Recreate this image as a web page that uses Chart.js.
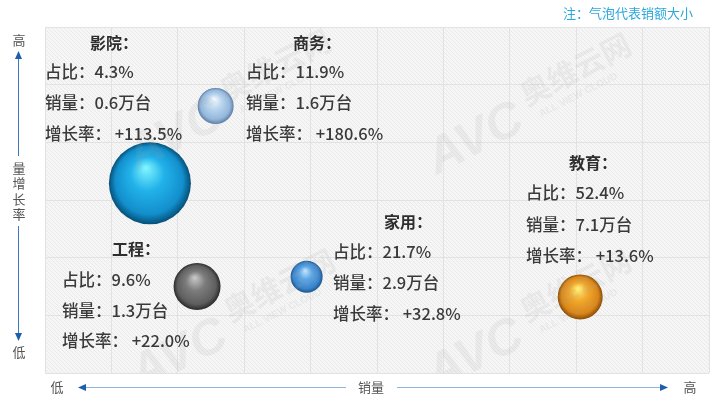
<!DOCTYPE html>
<html>
<head>
<meta charset="utf-8">
<script src="https://cdn.jsdelivr.net/npm/chart.js@4/dist/chart.umd.min.js"></script>
<style>
html,body{margin:0;padding:0;background:#fff;}
#wrap{width:720px;height:408px;position:relative;}
</style>
</head>
<body>
<div id="wrap"><canvas id="c" width="720" height="408"></canvas></div>
<script>
// ---- data ----
const categories = ['影院', '商务', '工程', '家用', '教育'];
const shares     = ['4.3%', '11.9%', '9.6%', '21.7%', '52.4%'];
const volumes    = ['0.6万台', '1.6万台', '1.3万台', '2.9万台', '7.1万台'];
const growth     = ['+113.5%', '+180.6%', '+22.0%', '+32.8%', '+13.6%'];
// position on the (unlabelled) sales / growth axes, in grid units
const xPos = [1.58, 2.57, 2.29, 3.94, 8.06];
const yPos = [3.29, 4.63, 1.50, 1.67, 1.32];
// bubble size = sales amount (relative)
const salesSize = [41, 18, 23.5, 16, 22.5];
const noteText = '注：气泡代表销额大小';
const xAxisName = '销量';
const yAxisName = '量增长率';
const lowText = '低', highText = '高';

// ---- styles ----
const sphereColors = [
  ['#7ff4ff', '#22b2ea', '#128fcc', '#064f78'],
  ['#f4f9ff', '#b9d5ee', '#93b6da', '#5c7ea6'],
  ['#c8c8c8', '#7c7c7c', '#5e5e5e', '#2a2a2a'],
  ['#c0e6ff', '#5aa6e6', '#3a84cc', '#1d568e'],
  ['#fff07a', '#f2a82a', '#d9861a', '#8a4c04']
];
// label layout (pixel anchors): title x, title y, lines x, first line y, line gap
const labelLayout = [
  {tx: 90,  ty: 43,  lx: 45,  ly: 72,  gap: 31},
  {tx: 293, ty: 43,  lx: 246, ly: 72,  gap: 31},
  {tx: 112, ty: 249, lx: 62,  ly: 280, gap: 30.5},
  {tx: 384, ty: 222, lx: 333, ly: 252, gap: 31},
  {tx: 569, ty: 163, lx: 526, ly: 193, gap: 31.5}
];
const CJK = '"Noto Sans CJK SC", "Microsoft YaHei", sans-serif';

const hatchPattern = (() => {
  const p = document.createElement('canvas');
  p.width = 4; p.height = 4;
  const g = p.getContext('2d');
  g.fillStyle = '#f6f6f6';
  g.fillRect(0, 0, 4, 4);
  g.strokeStyle = '#e9e9e9';
  g.lineWidth = 1;
  g.beginPath();
  g.moveTo(-1, -1); g.lineTo(5, 5);
  g.moveTo(-1, 3); g.lineTo(1, 5);
  g.moveTo(3, -1); g.lineTo(5, 1);
  g.stroke();
  return g.createPattern(p, 'repeat');
})();

function sphereFill(context) {
  const chart = context.chart;
  const i = context.dataIndex;
  const c = sphereColors[i] || sphereColors[0];
  if (i === undefined || !chart.scales || !chart.scales.x || !chart.scales.y) return c[1];
  const cx = chart.scales.x.getPixelForValue(xPos[i]);
  const cy = chart.scales.y.getPixelForValue(yPos[i]);
  const r = salesSize[i];
  if (!isFinite(cx) || !isFinite(cy) || !isFinite(r)) return c[1];
  const g = chart.ctx.createRadialGradient(cx - r * 0.1, cy - r * 0.38, r * 0.02, cx, cy, r);
  g.addColorStop(0, c[0]);
  g.addColorStop(0.4, c[1]);
  g.addColorStop(0.82, c[2]);
  g.addColorStop(1, c[3]);
  return g;
}

const backgroundPlugin = {
  id: 'bgHatch',
  beforeDraw(chart) {
    const {ctx, chartArea: a} = chart;
    ctx.save();
    ctx.fillStyle = hatchPattern;
    ctx.fillRect(a.left, a.top, a.right - a.left, a.bottom - a.top);
    ctx.restore();
  }
};

function arrowHead(ctx, x, y, dir) {
  ctx.beginPath();
  const s = 8, w = 3.5;
  if (dir === 'up')    { ctx.moveTo(x, y); ctx.lineTo(x - w, y + s); ctx.lineTo(x + w, y + s); }
  if (dir === 'down')  { ctx.moveTo(x, y); ctx.lineTo(x - w, y - s); ctx.lineTo(x + w, y - s); }
  if (dir === 'left')  { ctx.moveTo(x, y); ctx.lineTo(x + s, y - w); ctx.lineTo(x + s, y + w); }
  if (dir === 'right') { ctx.moveTo(x, y); ctx.lineTo(x - s, y - w); ctx.lineTo(x - s, y + w); }
  ctx.closePath();
  ctx.fill();
}

const watermarkPlugin = {
  id: 'watermark',
  afterDatasetsDraw(chart) {
    const ctx = chart.ctx;
    const a = chart.chartArea;
    const centers = [[218, 98], [518, 102], [222, 318], [518, 318]];
    ctx.save();
    ctx.beginPath();
    ctx.rect(a.left, a.top, a.right - a.left, a.bottom - a.top);
    ctx.clip();
    centers.forEach(([x, y]) => {
      ctx.save();
      ctx.translate(x, y);
      ctx.rotate(-27 * Math.PI / 180);
      ctx.fillStyle = 'rgba(160,160,160,0.13)';
      ctx.font = 'bold italic 50px "Liberation Sans", Arial, sans-serif';
      ctx.textAlign = 'right';
      ctx.textBaseline = 'alphabetic';
      ctx.fillText('AVC', -4, 28);
      ctx.font = 'bold 30px ' + CJK;
      ctx.textAlign = 'left';
      ctx.fillText('奥维云网', 6, 8);
      ctx.font = 'bold 10px "Liberation Sans", Arial, sans-serif';
      ctx.fillText('ALL VIEW CLOUD', 14, 24);
      ctx.restore();
    });
    ctx.restore();
  }
};

const annotationPlugin = {
  id: 'annotations',
  afterDraw(chart) {
    const ctx = chart.ctx;
    ctx.save();
    ctx.textBaseline = 'middle';
    ctx.textAlign = 'left';
    categories.forEach((name, i) => {
      const L = labelLayout[i];
      ctx.fillStyle = '#2e2e2e';
      ctx.font = 'bold 16px ' + CJK;
      ctx.fillText(name + '：', L.tx, L.ty);
      ctx.fillStyle = '#3a3a3a';
      ctx.font = '500 16.5px ' + CJK;
      ctx.fillText('占比：' + shares[i], L.lx, L.ly);
      ctx.fillText('销量：' + volumes[i], L.lx, L.ly + L.gap);
      ctx.fillText('增长率： ' + growth[i], L.lx, L.ly + 2 * L.gap);
    });

    ctx.fillStyle = '#2aa8dc';
    ctx.font = '13px ' + CJK;
    ctx.textAlign = 'right';
    ctx.fillText(noteText, 693, 13);

    ctx.strokeStyle = '#3d78c0';
    ctx.fillStyle = '#1d5fae';
    ctx.lineWidth = 1;
    ctx.beginPath();
    ctx.moveTo(18.5, 58); ctx.lineTo(18.5, 156);
    ctx.moveTo(18.5, 226); ctx.lineTo(18.5, 334);
    ctx.stroke();
    arrowHead(ctx, 18.5, 51, 'up');
    arrowHead(ctx, 18.5, 341, 'down');
    ctx.strokeStyle = '#8fb4df';
    ctx.beginPath();
    ctx.moveTo(84, 387.5); ctx.lineTo(346, 387.5);
    ctx.moveTo(397, 387.5); ctx.lineTo(661, 387.5);
    ctx.stroke();
    arrowHead(ctx, 78, 387.5, 'left');
    arrowHead(ctx, 668, 387.5, 'right');

    ctx.fillStyle = '#555555';
    ctx.font = '13px ' + CJK;
    ctx.textAlign = 'center';
    ctx.fillText(highText, 19, 40);
    ctx.fillText(lowText, 19, 352);
    Array.from(yAxisName).forEach((ch, k) => ctx.fillText(ch, 19, 168 + k * 15.5));
    ctx.fillText(lowText, 57, 387);
    ctx.fillText(xAxisName, 371, 387);
    ctx.fillText(highText, 690, 387);
    ctx.restore();
  }
};

new Chart(document.getElementById('c'), {
  type: 'bubble',
  data: {
    datasets: [{
      data: categories.map((c, i) => ({x: xPos[i], y: yPos[i], r: salesSize[i]})),
      backgroundColor: sphereFill,
      borderWidth: 0,
      hoverRadius: 0
    }]
  },
  options: {
    responsive: false,
    animation: false,
    events: [],
    layout: {autoPadding: false, padding: {left: 45, right: 11, top: 27, bottom: 35}},
    plugins: {legend: {display: false}, tooltip: {enabled: false}},
    scales: {
      x: {
        type: 'linear', min: 0, max: 10,
        ticks: {display: false, stepSize: 1},
        grid: {color: '#e2e2e2', drawTicks: false, lineWidth: 1},
        border: {display: false},
        afterFit: s => { s.height = 0; }
      },
      y: {
        type: 'linear', min: 0, max: 6,
        ticks: {display: false, stepSize: 1},
        grid: {color: '#e2e2e2', drawTicks: false, lineWidth: 1},
        border: {display: false},
        afterFit: s => { s.width = 0; }
      }
    }
  },
  plugins: [backgroundPlugin, watermarkPlugin, annotationPlugin]
});
</script>
</body>
</html>
